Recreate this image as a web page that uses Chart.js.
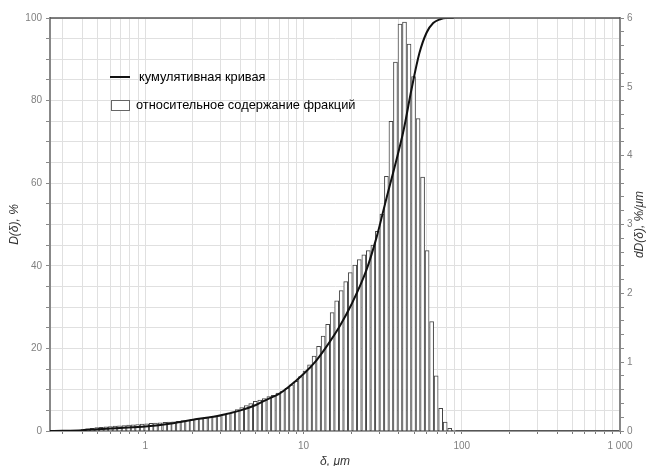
<!DOCTYPE html>
<html lang="ru">
<head>
<meta charset="utf-8">
<script src="https://cdn.jsdelivr.net/npm/chart.js@4/dist/chart.umd.min.js"></script>
<style>
  body { margin: 0; background: #fff; }
  #wrap { position: relative; width: 649px; height: 466px; }
  #legenda { position: absolute; left: 0; top: 0; font-family: "Liberation Sans", Arial, sans-serif; font-size: 12.8px; color: #000; }
  .item { position: absolute; white-space: nowrap; }
  .linha { position: absolute; width: 20px; height: 2px; background: #111; }
  .caixa { position: absolute; width: 17px; height: 9px; border: 1px solid #666; background: #fff; }
</style>
</head>
<body>
<div id="wrap">
  <canvas id="grafico" width="649" height="466"></canvas>
  <div id="legenda"></div>
</div>
<script>
// размеры фракций, мкм (центры интервалов)
const tamanhos = [
  0.406, 0.433, 0.463, 0.494, 0.528, 0.564, 0.602, 0.643, 0.687, 0.734, 0.784, 0.837, 0.894, 0.955,
  1.02, 1.09, 1.16, 1.24, 1.33, 1.42, 1.51, 1.62, 1.73, 1.85, 1.97,
  2.11, 2.25, 2.40, 2.57, 2.74, 2.93, 3.13, 3.34, 3.57, 3.81, 4.07, 4.35, 4.64, 4.96, 5.29, 5.65,
  6.04, 6.45, 6.89, 7.36, 7.86, 8.39, 8.96, 9.57,
  10.22, 10.92, 11.66, 12.45, 13.30, 14.21, 15.17, 16.20, 17.31, 18.48, 19.74, 21.08, 22.51,
  24.05, 25.68, 27.43, 29.29, 31.28, 33.41, 35.68, 38.11,
  40.7, 43.47, 46.42, 49.58, 52.95, 56.55, 60.40, 64.50, 68.89, 73.58, 78.58, 83.92, 89.63
];

// относительное содержание фракций, %/мкм
const fracoes = [
  0.02, 0.03, 0.04, 0.05, 0.055, 0.06, 0.065, 0.07, 0.075, 0.08, 0.085, 0.09, 0.095, 0.10,
  0.105, 0.11, 0.115, 0.12, 0.125, 0.13, 0.135, 0.14, 0.15, 0.155, 0.165,
  0.175, 0.18, 0.19, 0.20, 0.21, 0.22, 0.24, 0.26, 0.28, 0.31, 0.34, 0.37, 0.40, 0.43, 0.45, 0.47,
  0.50, 0.52, 0.55, 0.58, 0.62, 0.67, 0.72, 0.79,
  0.87, 0.96, 1.09, 1.23, 1.38, 1.55, 1.72, 1.89, 2.04, 2.17, 2.30, 2.41, 2.49,
  2.56, 2.62, 2.70, 2.90, 3.15, 3.70, 4.50, 5.36,
  5.91, 5.94, 5.62, 5.15, 4.54, 3.69, 2.62, 1.59, 0.80, 0.33, 0.13, 0.04, 0.01
];

// кумулятивная кривая, %
const curvaTamanhos = [0.25, 0.3, 0.4, 0.5, 0.7, 1, 1.5, 2, 3, 4, 5, 6, 7, 8, 10, 12, 14, 17, 20, 25, 29, 33.5, 38, 43, 48, 54, 60, 66, 73, 80, 89];
const curvaValores = [0, 0.05, 0.2, 0.45, 0.75, 1.1, 1.9, 2.7, 3.8, 5.0, 6.3, 7.8, 9.0, 10.6, 13.8, 17, 20.5, 25.5, 30.5, 39, 47, 56.5, 64.5, 73, 82.5, 91.5, 96.5, 98.8, 99.7, 100, 100];

const rotulosX = [1, 10, 100, 1000];
const rotulosY = [0, 20, 40, 60, 80, 100];
const rotulosY1 = [0, 1, 2, 3, 4, 5, 6];

const corTexto = "#808080";
const corGrade = "#e0e0e0";
const fonteEixo = { family: "'Liberation Sans', Arial, sans-serif", size: 10 };
const fonteTitulo = { family: "'Liberation Sans', Arial, sans-serif", size: 12, style: "italic" };

function formatarMilhar(v) {
  return String(v).replace(/\B(?=(\d{3})+(?!\d))/g, " ");
}

function ticksLog() {
  const lista = [];
  for (let d = -1; d <= 2; d++) {
    for (let m = 1; m <= 9; m++) {
      const v = Number((m * Math.pow(10, d)).toPrecision(3));
      if (v >= 0.3) lista.push({ value: v });
    }
  }
  lista.push({ value: 1000 });
  return lista;
}

// верхняя рамка и подпись правой оси (снизу вверх, как слева)
const molduraTitulo = {
  id: "molduraTitulo",
  afterDraw(chart) {
    const { ctx, chartArea } = chart;
    ctx.save();
    ctx.strokeStyle = "#555";
    ctx.lineWidth = 1.5;
    ctx.beginPath();
    ctx.moveTo(chartArea.left, chartArea.top);
    ctx.lineTo(chartArea.right, chartArea.top);
    ctx.stroke();

    const eixo = chart.scales.y1;
    ctx.translate(eixo.right - 9, (chartArea.top + chartArea.bottom) / 2);
    ctx.rotate(-Math.PI / 2);
    ctx.textAlign = "center";
    ctx.textBaseline = "middle";
    ctx.fillStyle = "#333";
    ctx.font = "italic 12px 'Liberation Sans', Arial, sans-serif";
    ctx.fillText(eixo.options.title.text, 0, 0);
    ctx.restore();
  },
};

const grafico = new Chart(document.getElementById("grafico"), {
  type: "bar",
  data: {
    datasets: [
      {
        type: "line",
        label: "кумулятивная кривая",
        data: curvaTamanhos.map((x, i) => ({ x: x, y: curvaValores[i] })),
        borderColor: "#111",
        borderWidth: 2,
        pointRadius: 0,
        cubicInterpolationMode: "monotone",
        yAxisID: "y",
        order: 0,
      },
      {
        type: "bar",
        label: "относительное содержание фракций",
        data: tamanhos.map((x, i) => ({ x: x, y: fracoes[i] })),
        backgroundColor: "#ffffff",
        borderColor: "#454545",
        borderWidth: 1,
        barThickness: 4,
        yAxisID: "y1",
        order: 1,
      },
    ],
  },
  options: {
    responsive: false,
    animation: false,
    devicePixelRatio: 1,
    layout: { padding: { top: 18, left: 0, right: 0, bottom: 0 } },
    plugins: {
      legend: { display: false },
      tooltip: { enabled: false },
    },
    scales: {
      x: {
        type: "logarithmic",
        min: 0.25,
        max: 1000,
        offset: false,
        afterBuildTicks: (scale) => { scale.ticks = ticksLog(); },
        afterFit: (scale) => { scale.height = 35; },
        grid: { offset: false, color: corGrade, tickColor: "#777", tickLength: 3 },
        border: { color: "#555", width: 1.5 },
        ticks: {
          autoSkip: false,
          maxRotation: 0,
          color: corTexto,
          font: fonteEixo,
          padding: 6,
          callback: (v) => (rotulosX.includes(v) ? formatarMilhar(v) : ""),
        },
        title: { display: true, text: "δ, μm", color: "#333", font: fonteTitulo, padding: { top: 0, bottom: -3 } },
      },
      y: {
        position: "left",
        min: 0,
        max: 100,
        afterFit: (scale) => { scale.width = 50; },
        grid: { color: corGrade, tickColor: "#888", tickLength: 4 },
        border: { color: "#888", width: 2 },
        ticks: {
          stepSize: 5,
          autoSkip: false,
          color: corTexto,
          font: fonteEixo,
          padding: 4,
          callback: (v) => (rotulosY.includes(v) ? v : ""),
        },
        title: { display: true, text: "D(δ), %", color: "#333", font: fonteTitulo, padding: { top: 7, bottom: 0 } },
      },
      y1: {
        position: "right",
        min: 0,
        max: 6,
        afterFit: (scale) => { scale.width = 29; },
        grid: { drawOnChartArea: false, tickColor: "#888", tickLength: 4 },
        border: { color: "#888", width: 2 },
        ticks: {
          stepSize: 0.2,
          autoSkip: false,
          color: corTexto,
          font: fonteEixo,
          padding: 3,
          callback: (v) => {
            const r = Math.round(v);
            return Math.abs(v - r) < 1e-6 && rotulosY1.includes(r) ? r : "";
          },
        },
        title: { display: false, text: "dD(δ), %/μm" },
      },
    },
  },
  plugins: [molduraTitulo],
});

// легенда внутри области графика
const legenda = document.getElementById("legenda");
const conjuntos = grafico.data.datasets;

legenda.innerHTML = `
  <div class="linha" style="left:110px; top:76px"></div>
  <div class="item" style="left:139px; top:69px">${conjuntos[0].label}</div>
  <div class="caixa" style="left:111px; top:100px"></div>
  <div class="item" style="left:136px; top:97px">${conjuntos[1].label}</div>
`;
</script>
</body>
</html>
